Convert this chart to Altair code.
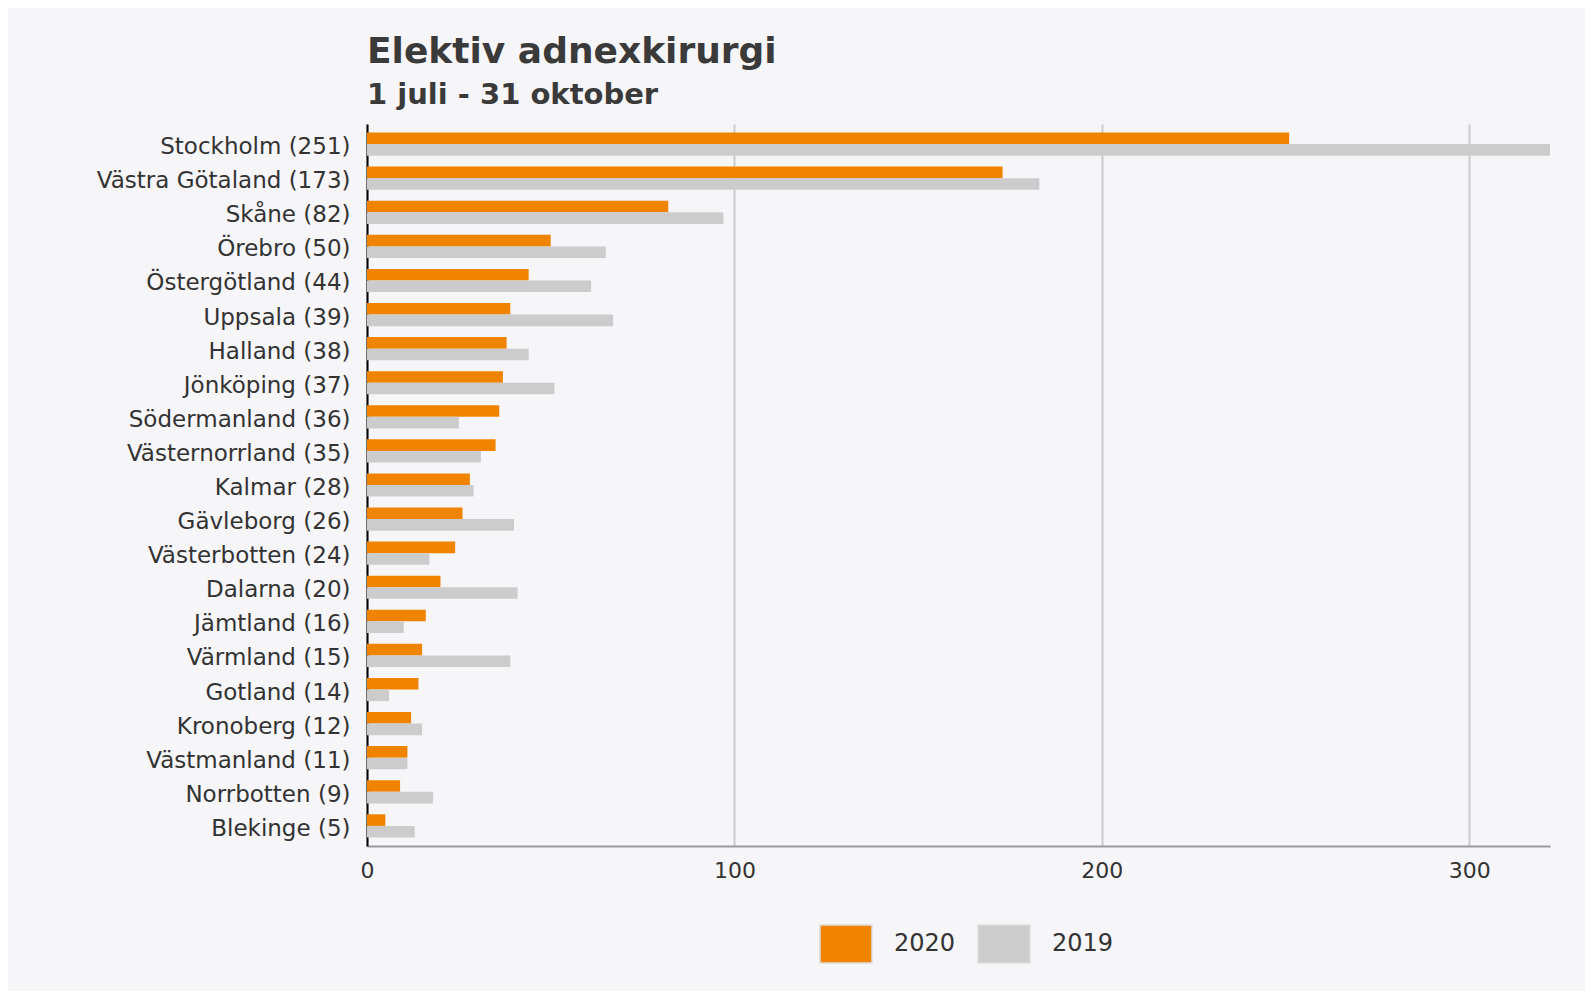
import altair as alt
import pandas as pd

regions = ["Stockholm", "Västra Götaland", "Skåne", "Örebro", "Östergötland", "Uppsala",
           "Halland", "Jönköping", "Södermanland", "Västernorrland", "Kalmar", "Gävleborg",
           "Västerbotten", "Dalarna", "Jämtland", "Värmland", "Gotland", "Kronoberg",
           "Västmanland", "Norrbotten", "Blekinge"]
values_2020 = [251, 173, 82, 50, 44, 39, 38, 37, 36, 35, 28, 26, 24, 20, 16, 15, 14, 12, 11, 9, 5]
values_2019 = [322, 183, 97, 65, 61, 67, 44, 51, 25, 31, 29, 40, 17, 41, 10, 39, 6, 15, 11, 18, 13]
years = ["2020", "2019"]
colors = ["#f08300", "#cccccc"]
x_ticks = [0, 100, 200, 300]

labels = [f"{r} ({v})" for r, v in zip(regions, values_2020)]
rows = []
for lab, a, b in zip(labels, values_2020, values_2019):
    rows.append({"label": lab, "year": "2020", "value": a})
    rows.append({"label": lab, "year": "2019", "value": b})
df = pd.DataFrame(rows)

FONT = "DejaVu Sans"

chart = alt.Chart(df).mark_bar().encode(
    y=alt.Y("label:N", sort=labels, title=None,
            scale=alt.Scale(paddingInner=0.32, paddingOuter=0.25),
            axis=alt.Axis(labelFont=FONT, labelFontSize=23, labelColor="#333333",
                          labelPadding=17, labelLimit=0, labelOffset=3, ticks=False,
                          domainColor="#000000", domainWidth=2, grid=False)),
    yOffset=alt.YOffset("year:N", sort=years),
    x=alt.X("value:Q", title=None,
            scale=alt.Scale(domain=[0, 322], nice=False, zero=True),
            axis=alt.Axis(values=x_ticks, grid=True, gridColor="#cccccc", gridWidth=2,
                          domainColor="#999999", domainWidth=2, ticks=False,
                          labelFont=FONT, labelFontSize=22, labelPadding=14,
                          labelFlush=False, labelColor="#333333")),
    color=alt.Color("year:N", sort=years,
                    scale=alt.Scale(domain=years, range=colors),
                    legend=alt.Legend(title=None, orient="none", legendX=452, legendY=793,
                                      direction="horizontal",
                                      symbolType="M-1,-0.73L1,-0.73L1,0.73L-1,0.73Z",
                                      symbolSize=2704, symbolStrokeColor="#dddddd",
                                      symbolStrokeWidth=1.5, symbolOpacity=1,
                                      labelFont=FONT, labelFontSize=24,
                                      labelColor="#333333", labelOffset=21,
                                      columnPadding=19, padding=0)),
).properties(
    width=1183,
    height=722,
    title=alt.Title("Elektiv adnexkirurgi", subtitle="1 juli - 31 oktober",
                    anchor="start", frame="group", font=FONT, fontSize=36,
                    fontWeight="bold", color="#3a3a3a", subtitleFont=FONT,
                    subtitleFontSize=29, subtitleFontWeight="bold",
                    subtitleColor="#3a3a3a", offset=13, subtitlePadding=10),
    autosize=alt.AutoSizeParams(type="none"),
    padding={"left": 359, "top": 116, "right": 35, "bottom": 145},
).configure(
    background="#f6f5f8"
).configure_view(
    stroke=None
)

chart.save("out.html", embed_options={"renderer": "svg", "actions": False})
